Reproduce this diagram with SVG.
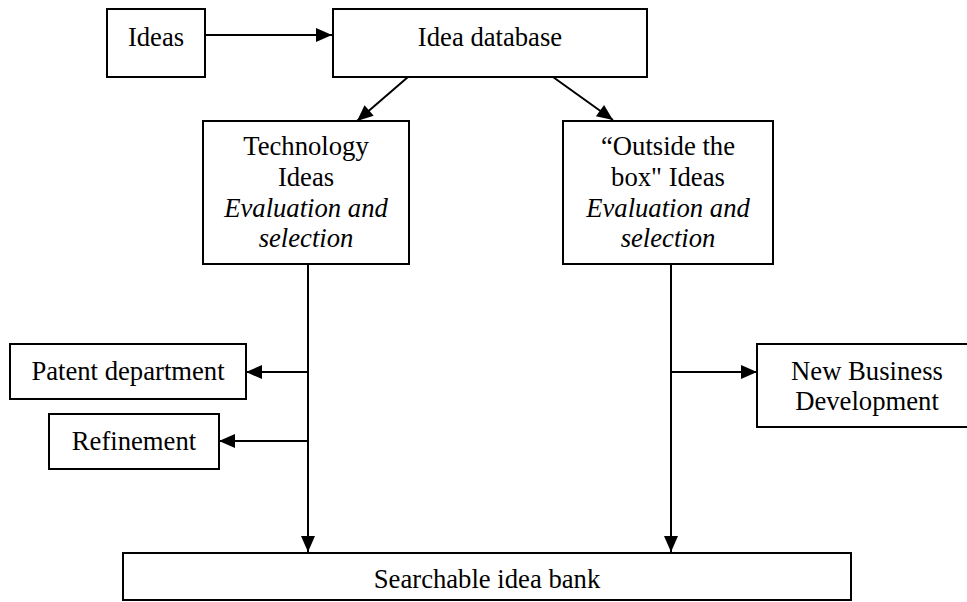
<svg xmlns="http://www.w3.org/2000/svg" width="967" height="602" viewBox="0 0 967 602">
<style>
.box{fill:#fff;stroke:#000;stroke-width:2}
.t{font-family:"Liberation Serif","Times New Roman",serif;font-size:26.67px;fill:#000;text-anchor:middle}
.i{font-style:italic}
.c{stroke:#000;stroke-width:2;fill:none;marker-end:url(#ah)}
</style>
<defs>
<marker id="ah" markerUnits="userSpaceOnUse" markerWidth="17" markerHeight="15" refX="16" refY="7" orient="auto" overflow="visible">
<path d="M0,0 L16,7 L0,14 z" fill="#000"/>
</marker>
</defs>
<rect width="967" height="602" fill="#fff"/>
<g id="connectors">
<line class="c" x1="205" y1="35" x2="332" y2="35"/>
<line class="c" x1="408" y1="77" x2="357" y2="121"/>
<line class="c" x1="553" y1="77" x2="613" y2="120"/>
<line class="c" x1="308" y1="264" x2="308" y2="552"/>
<line class="c" x1="671" y1="264" x2="671" y2="552"/>
<line class="c" x1="308" y1="372" x2="246" y2="372"/>
<line class="c" x1="308" y1="441" x2="219" y2="441"/>
<line class="c" x1="671" y1="372" x2="757" y2="372"/>
</g>
<g id="ideas">
<rect class="box" x="107" y="9" width="98" height="68"/>
<text class="t" x="156" y="46">Ideas</text>
</g>
<g id="idea-database">
<rect class="box" x="333" y="9" width="314" height="68"/>
<text class="t" x="490" y="46">Idea database</text>
</g>
<g id="technology-ideas">
<rect class="box" x="203" y="121" width="206" height="143"/>
<text class="t" x="306" y="155">Technology</text>
<text class="t" x="306" y="186">Ideas</text>
<text class="t i" x="306" y="216.5">Evaluation and</text>
<text class="t i" x="306" y="247">selection</text>
</g>
<g id="outside-ideas">
<rect class="box" x="563" y="121" width="210" height="143"/>
<text class="t" x="668" y="155">“Outside the</text>
<text class="t" x="668" y="186">box" Ideas</text>
<text class="t i" x="668" y="216.5">Evaluation and</text>
<text class="t i" x="668" y="247">selection</text>
</g>
<g id="patent-department">
<rect class="box" x="10" y="344" width="236" height="55"/>
<text class="t" x="128" y="380">Patent department</text>
</g>
<g id="refinement">
<rect class="box" x="49" y="414" width="170" height="55"/>
<text class="t" x="134" y="450">Refinement</text>
</g>
<g id="new-business-development">
<rect class="box" x="757" y="344" width="222" height="83"/>
<text class="t" x="867" y="380">New Business</text>
<text class="t" x="867" y="410">Development</text>
</g>
<g id="searchable-idea-bank">
<rect class="box" x="123" y="553" width="728" height="47"/>
<text class="t" x="487" y="588">Searchable idea bank</text>
</g>
</svg>
